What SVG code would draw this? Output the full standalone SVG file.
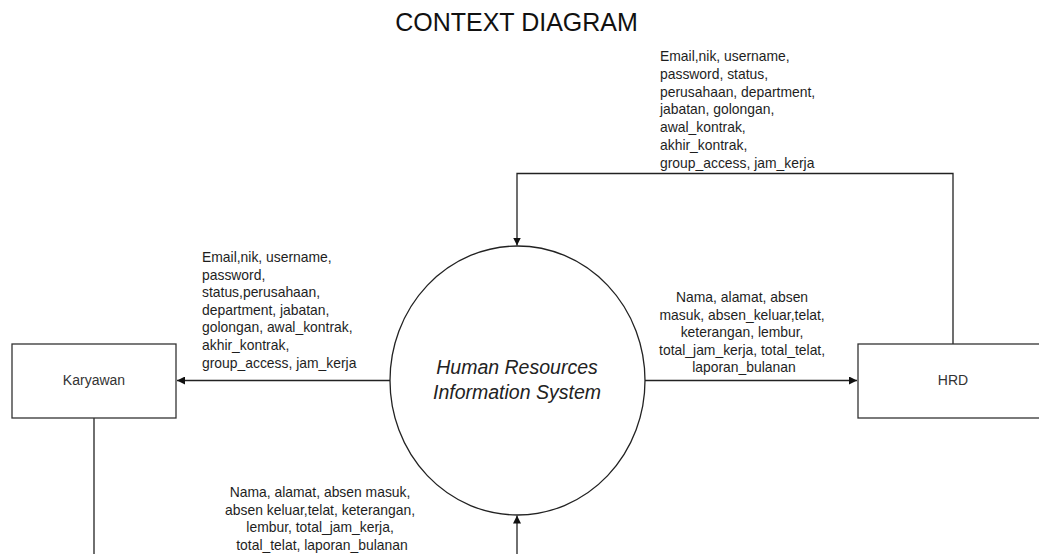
<svg xmlns="http://www.w3.org/2000/svg" width="1039" height="554" viewBox="0 0 1039 554">
  <style>
    .bg { fill: #ffffff; }
    .box { fill: #ffffff; stroke: #333333; stroke-width: 1.3; }
    .proc { fill: #ffffff; stroke: #222222; stroke-width: 1.3; }
    .flow { fill: none; stroke: #222222; stroke-width: 1.3; }
    .title { font-family: "Liberation Sans", Arial, sans-serif; font-size: 25px; fill: #111111; text-anchor: middle; }
    .name { font-family: "Liberation Sans", Arial, sans-serif; font-size: 14px; fill: #333333; text-anchor: middle; }
    .sys { font-family: "Liberation Sans", Arial, sans-serif; font-size: 19.5px; font-style: italic; fill: #222222; text-anchor: middle; }
    .lbl { font-family: "Liberation Sans", Arial, sans-serif; font-size: 13.9px; fill: #1e1e1e; }
    .mid { text-anchor: middle; }
  </style>
  <defs>
    <marker id="arrow" viewBox="0 0 10 10" refX="10" refY="5" markerWidth="8" markerHeight="8" markerUnits="userSpaceOnUse" orient="auto">
      <path d="M0,0 L10,5 L0,10 z" fill="#111111"/>
    </marker>
  </defs>

  <rect class="bg" x="0" y="0" width="1039" height="554"/>

  <text class="title" x="516.5" y="31">CONTEXT DIAGRAM</text>

  <!-- data flows -->
  <g id="connectors">
    <!-- system to Karyawan -->
    <line class="flow" x1="390" y1="380.5" x2="177" y2="380.5" marker-end="url(#arrow)"/>
    <!-- system to HRD -->
    <line class="flow" x1="645" y1="380.5" x2="857" y2="380.5" marker-end="url(#arrow)"/>
    <!-- HRD back to system (top) -->
    <polyline class="flow" points="953,344 953,173.5 517,173.5 517,245.5" marker-end="url(#arrow)"/>
    <!-- Karyawan back to system (bottom, continues below the frame) -->
    <line class="flow" x1="94" y1="418" x2="94" y2="560"/>
    <line class="flow" x1="517" y1="560" x2="517" y2="515.5" marker-end="url(#arrow)"/>

    <!-- flow labels -->
    <text class="lbl" x="660" y="61">
      <tspan x="660" dy="0">Email,nik, username,</tspan>
      <tspan x="660" dy="17.8">password, status,</tspan>
      <tspan x="660" dy="17.8">perusahaan, department,</tspan>
      <tspan x="660" dy="17.8">jabatan, golongan,</tspan>
      <tspan x="660" dy="17.8">awal_kontrak,</tspan>
      <tspan x="660" dy="17.8">akhir_kontrak,</tspan>
      <tspan x="660" dy="17.8">group_access, jam_kerja</tspan>
    </text>
    <text class="lbl" x="202" y="262">
      <tspan x="202" dy="0">Email,nik, username,</tspan>
      <tspan x="202" dy="17.6">password,</tspan>
      <tspan x="202" dy="17.6">status,perusahaan,</tspan>
      <tspan x="202" dy="17.6">department, jabatan,</tspan>
      <tspan x="202" dy="17.6">golongan, awal_kontrak,</tspan>
      <tspan x="202" dy="17.6">akhir_kontrak,</tspan>
      <tspan x="202" dy="17.6">group_access, jam_kerja</tspan>
    </text>
    <text class="lbl mid" x="744" y="302">
      <tspan x="744" dy="0">Nama, alamat, absen</tspan>
      <tspan x="744" dy="17.6">masuk, absen_keluar,telat,</tspan>
      <tspan x="744" dy="17.6">keterangan, lembur,</tspan>
      <tspan x="744" dy="17.6">total_jam_kerja, total_telat,</tspan>
      <tspan x="744" dy="17.6">laporan_bulanan</tspan>
    </text>
    <text class="lbl mid" x="322" y="497">
      <tspan x="322" dy="0">Nama, alamat, absen masuk,</tspan>
      <tspan x="322" dy="17.7">absen keluar,telat, keterangan,</tspan>
      <tspan x="322" dy="17.7">lembur, total_jam_kerja,</tspan>
      <tspan x="322" dy="17.7">total_telat, laporan_bulanan</tspan>
    </text>
  </g>

  <g id="karyawan">
    <rect class="box" x="12" y="344" width="164" height="74"/>
    <text class="name" x="94" y="385">Karyawan</text>
  </g>

  <g id="hrd">
    <rect class="box" x="858" y="344" width="190" height="74"/>
    <text class="name" x="953" y="385">HRD</text>
  </g>

  <g id="hris">
    <ellipse class="proc" cx="517.5" cy="380.5" rx="127.5" ry="134.5"/>
    <text class="sys" x="517" y="374">Human Resources</text>
    <text class="sys" x="517" y="399">Information System</text>
  </g>
</svg>
